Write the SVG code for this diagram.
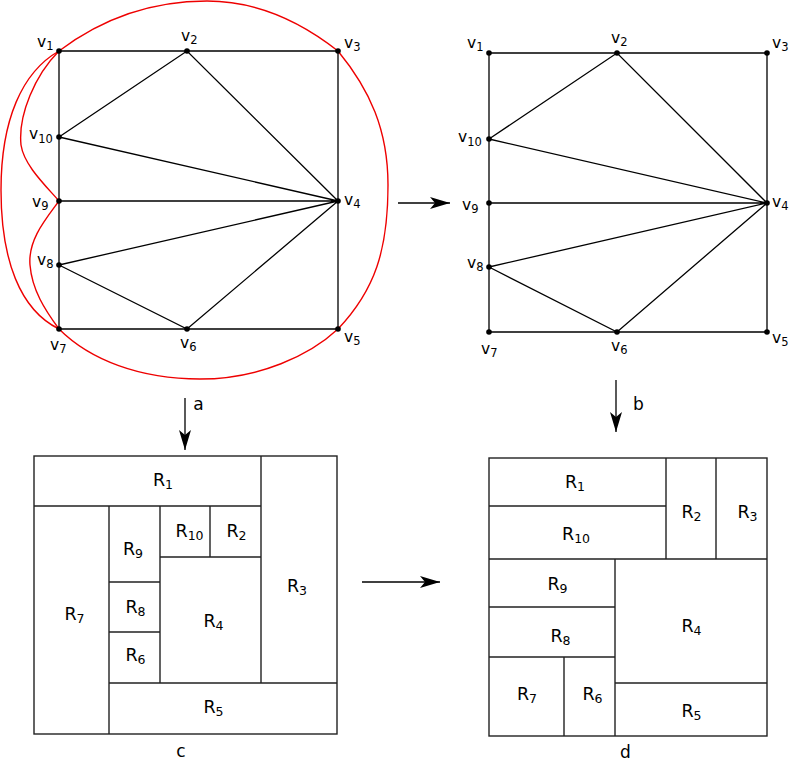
<svg xmlns="http://www.w3.org/2000/svg" width="789" height="762" viewBox="0 0 789 762">
<defs>
<style>
.e{stroke:#000;stroke-width:1.3;fill:none}
.red{stroke:#e00;stroke-width:1.4;fill:none}
.n{fill:#000}
.v{font-family:"DejaVu Sans",Verdana,sans-serif;font-size:15.5px;fill:#000}
.s{font-size:11.5px}
.r{font-family:"DejaVu Sans",Verdana,sans-serif;font-size:17.5px;fill:#000;text-anchor:middle}
.rs{font-size:12.5px}
.lab{font-family:"DejaVu Sans",Verdana,sans-serif;font-size:17px;fill:#000;text-anchor:middle}
.box{stroke:#222;stroke-width:1.4;fill:none}
.ar{stroke:#000;stroke-width:1.3;fill:none}
</style>
<marker id="ah" markerUnits="userSpaceOnUse" markerWidth="22" markerHeight="14" refX="20" refY="6" orient="auto">
<path d="M0,0 L20,6 L0,12 L5,6 Z" fill="#000"/>
</marker>
</defs>
<rect width="789" height="762" fill="#fff"/>

<!-- Left graph -->
<g id="graph-left">
<g id="edges-left">
<path class="e" d="M59,51 H338 V329 H59 Z"/>
<path class="e" d="M59,137 L187,51 L338,201 M59,137 L338,201 M59,201 L338,201 M59,265 L338,201 M59,265 L187,329 L338,201"/>
</g>
<g id="red-curves">
<path class="red" d="M59,51 C100,20 150,1 207,1 C260,1 305,25 338,51 C370,90 388,130 388,185 C388,250 375,290 338,329 C310,355 260,379 200,379 C140,379 90,360 59,329 C20,310 1,260 1,190 C1,120 22,72 59,51"/>
<path class="red" d="M59,51 C35,75 18,115 21,145 C24,165 45,185 59,201 C45,220 28,240 30,265 C32,290 45,310 59,329"/>
</g>
<g id="nodes-left">
<circle class="n" cx="59" cy="51" r="2.8"/><circle class="n" cx="187" cy="51" r="2.8"/><circle class="n" cx="338" cy="51" r="2.8"/>
<circle class="n" cx="59" cy="137" r="2.8"/><circle class="n" cx="59" cy="201" r="2.8"/><circle class="n" cx="338" cy="201" r="2.8"/>
<circle class="n" cx="59" cy="265" r="2.8"/><circle class="n" cx="59" cy="329" r="2.8"/><circle class="n" cx="187" cy="329" r="2.8"/><circle class="n" cx="338" cy="329" r="2.8"/>
</g>
<g id="labels-left">
<text class="v" x="37" y="47">v<tspan class="s" dy="3">1</tspan></text>
<text class="v" x="181" y="41">v<tspan class="s" dy="3">2</tspan></text>
<text class="v" x="344" y="48">v<tspan class="s" dy="3">3</tspan></text>
<text class="v" x="29" y="139">v<tspan class="s" dy="4">10</tspan></text>
<text class="v" x="32" y="207">v<tspan class="s" dy="3">9</tspan></text>
<text class="v" x="344" y="205">v<tspan class="s" dy="3">4</tspan></text>
<text class="v" x="37" y="265">v<tspan class="s" dy="3">8</tspan></text>
<text class="v" x="50" y="350">v<tspan class="s" dy="3">7</tspan></text>
<text class="v" x="180" y="348">v<tspan class="s" dy="3">6</tspan></text>
<text class="v" x="344" y="342">v<tspan class="s" dy="3">5</tspan></text>
</g>
</g>

<!-- Right graph -->
<g id="graph-right">
<g id="edges-right">
<path class="e" d="M489,53 H767 V332 H489 Z"/>
<path class="e" d="M489,139 L617,53 L767,203 M489,139 L767,203 M489,203 L767,203 M489,267 L767,203 M489,267 L617,332 L767,203"/>
</g>
<g id="nodes-right">
<circle class="n" cx="489" cy="53" r="2.8"/><circle class="n" cx="617" cy="53" r="2.8"/><circle class="n" cx="767" cy="53" r="2.8"/>
<circle class="n" cx="489" cy="139" r="2.8"/><circle class="n" cx="489" cy="203" r="2.8"/><circle class="n" cx="767" cy="203" r="2.8"/>
<circle class="n" cx="489" cy="267" r="2.8"/><circle class="n" cx="489" cy="332" r="2.8"/><circle class="n" cx="617" cy="332" r="2.8"/><circle class="n" cx="767" cy="332" r="2.8"/>
</g>
<g id="labels-right">
<text class="v" x="467" y="48">v<tspan class="s" dy="3">1</tspan></text>
<text class="v" x="611" y="43">v<tspan class="s" dy="3">2</tspan></text>
<text class="v" x="772" y="48">v<tspan class="s" dy="3">3</tspan></text>
<text class="v" x="458" y="142">v<tspan class="s" dy="4">10</tspan></text>
<text class="v" x="462" y="210">v<tspan class="s" dy="3">9</tspan></text>
<text class="v" x="772" y="207">v<tspan class="s" dy="3">4</tspan></text>
<text class="v" x="467" y="268">v<tspan class="s" dy="3">8</tspan></text>
<text class="v" x="481" y="354">v<tspan class="s" dy="3">7</tspan></text>
<text class="v" x="611" y="351">v<tspan class="s" dy="3">6</tspan></text>
<text class="v" x="772" y="343">v<tspan class="s" dy="3">5</tspan></text>
</g>
</g>

<!-- Floorplan c -->
<g id="plan-c">
<rect class="box" x="34" y="456" width="303" height="278"/>
<path class="box" d="M34,506 H261 M261,456 V683 M109,506 V734 M109,683 H337 M160,506 V683 M109,582 H160 M109,632 H160 M160,557 H261 M210,506 V557"/>
<g id="R1c"><text class="r" x="163" y="486">R<tspan class="rs" dy="3">1</tspan></text></g>
<g id="R10c"><text class="r" x="189.5" y="537">R<tspan class="rs" dy="3">10</tspan></text></g>
<g id="R2c"><text class="r" x="236.5" y="537">R<tspan class="rs" dy="3">2</tspan></text></g>
<g id="R9c"><text class="r" x="133" y="555">R<tspan class="rs" dy="3">9</tspan></text></g>
<g id="R8c"><text class="r" x="135.5" y="613">R<tspan class="rs" dy="3">8</tspan></text></g>
<g id="R6c"><text class="r" x="135.5" y="661">R<tspan class="rs" dy="3">6</tspan></text></g>
<g id="R7c"><text class="r" x="74.5" y="620">R<tspan class="rs" dy="3">7</tspan></text></g>
<g id="R4c"><text class="r" x="213.5" y="627">R<tspan class="rs" dy="3">4</tspan></text></g>
<g id="R3c"><text class="r" x="297" y="592">R<tspan class="rs" dy="3">3</tspan></text></g>
<g id="R5c"><text class="r" x="213.5" y="713">R<tspan class="rs" dy="3">5</tspan></text></g>
<text class="lab" x="181" y="757">c</text>
</g>

<!-- Floorplan d -->
<g id="plan-d">
<rect class="box" x="489" y="458" width="278" height="278"/>
<path class="box" d="M489,506 H666 M666,458 V559 M716,458 V559 M489,559 H767 M615,559 V736 M489,607 H615 M489,657 H615 M564,657 V736 M615,683 H767"/>
<g id="R1d"><text class="r" x="575" y="488">R<tspan class="rs" dy="3">1</tspan></text></g>
<g id="R10d"><text class="r" x="576" y="540">R<tspan class="rs" dy="3">10</tspan></text></g>
<g id="R2d"><text class="r" x="691.5" y="518">R<tspan class="rs" dy="3">2</tspan></text></g>
<g id="R3d"><text class="r" x="747.5" y="518">R<tspan class="rs" dy="3">3</tspan></text></g>
<g id="R9d"><text class="r" x="557.5" y="590">R<tspan class="rs" dy="3">9</tspan></text></g>
<g id="R8d"><text class="r" x="560.5" y="642">R<tspan class="rs" dy="3">8</tspan></text></g>
<g id="R4d"><text class="r" x="691.5" y="632">R<tspan class="rs" dy="3">4</tspan></text></g>
<g id="R7d"><text class="r" x="527" y="700">R<tspan class="rs" dy="3">7</tspan></text></g>
<g id="R6d"><text class="r" x="592.5" y="700">R<tspan class="rs" dy="3">6</tspan></text></g>
<g id="R5d"><text class="r" x="691.5" y="717">R<tspan class="rs" dy="3">5</tspan></text></g>
<text class="lab" x="625.5" y="758" font-size="16">d</text>
</g>

<!-- Connectors -->
<g id="connectors">
<line class="ar" x1="398" y1="203" x2="450" y2="203" marker-end="url(#ah)"/>
<line class="ar" x1="185" y1="398" x2="185" y2="450" marker-end="url(#ah)"/>
<line class="ar" x1="616" y1="380" x2="616" y2="432" marker-end="url(#ah)"/>
<line class="ar" x1="362" y1="582" x2="440" y2="582" marker-end="url(#ah)"/>
<text class="lab" x="198.5" y="410">a</text>
<text class="lab" x="638.5" y="410">b</text>
</g>
</svg>
